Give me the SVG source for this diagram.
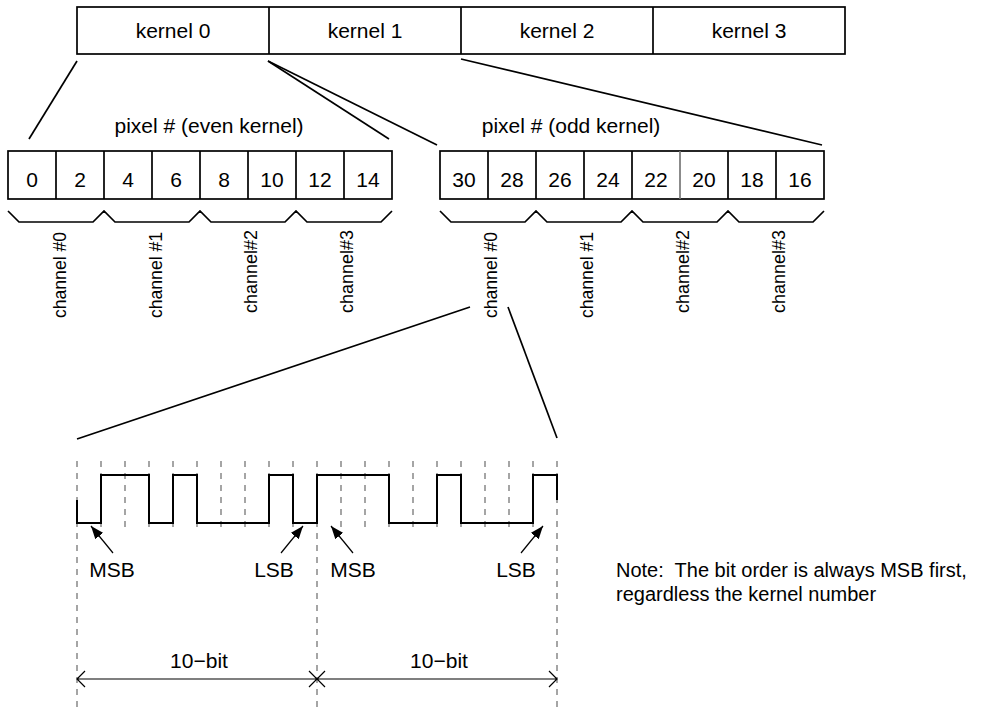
<svg xmlns="http://www.w3.org/2000/svg" width="990" height="708" viewBox="0 0 990 708">
<defs>
<style>
text{font-family:"Liberation Sans",Arial,Helvetica,sans-serif;fill:#000}
.t{font-size:21px;text-anchor:middle}
.ch{font-size:18.5px}
.note{font-size:20px;white-space:pre}
.box{fill:#fff;stroke:#000;stroke-width:1.7}
.ln{fill:none;stroke:#000;stroke-width:1.7}
.thin{fill:none;stroke:#000;stroke-width:1.2}
.dash{fill:none;stroke:#888;stroke-width:1.5;stroke-dasharray:6,6}
.wave{fill:none;stroke:#000;stroke-width:2}
</style>
<marker id="ah" markerUnits="userSpaceOnUse" markerWidth="14" markerHeight="10" refX="13" refY="5" orient="auto">
<path d="M0,0 L13,5 L0,10 z" fill="#000"/>
</marker>
</defs>
<rect width="990" height="708" fill="#fff"/>

<g id="kernels">
<rect class="box" x="77" y="7" width="768" height="47"/>
<path class="ln" d="M269,7V54M461,7V54M653,7V54"/>
<text class="t" x="173" y="38">kernel 0</text>
<text class="t" x="365" y="38">kernel 1</text>
<text class="t" x="557" y="38">kernel 2</text>
<text class="t" x="749" y="38">kernel 3</text>
</g>

<g id="even-pixels">
<text class="t" x="209" y="133">pixel # (even kernel)</text>
<rect class="box" x="8" y="151" width="384" height="48"/>
<path class="ln" d="M56,151V199M104,151V199M152,151V199M200,151V199M248,151V199M296,151V199M344,151V199"/>
<text class="t" x="32" y="187">0</text>
<text class="t" x="80" y="187">2</text>
<text class="t" x="128" y="187">4</text>
<text class="t" x="176" y="187">6</text>
<text class="t" x="224" y="187">8</text>
<text class="t" x="272" y="187">10</text>
<text class="t" x="320" y="187">12</text>
<text class="t" x="368" y="187">14</text>
<path class="ln" d="M8,211L19,222H93L104,211L115,222H189L200,211L211,222H285L296,211L307,222H381L392,211"/>
<text class="ch" transform="translate(66,318) rotate(-90)" textLength="86" lengthAdjust="spacingAndGlyphs">channel #0</text>
<text class="ch" transform="translate(162,318) rotate(-90)" textLength="86" lengthAdjust="spacingAndGlyphs">channel #1</text>
<text class="ch" transform="translate(257,313) rotate(-90)" textLength="83" lengthAdjust="spacingAndGlyphs">channel#2</text>
<text class="ch" transform="translate(353,313) rotate(-90)" textLength="83" lengthAdjust="spacingAndGlyphs">channel#3</text>
</g>

<g id="odd-pixels">
<text class="t" x="571" y="133">pixel # (odd kernel)</text>
<rect class="box" x="440" y="151" width="384" height="48"/>
<path class="ln" d="M488,151V199M536,151V199M584,151V199M632,151V199M728,151V199M776,151V199"/>
<path d="M680,151V199" fill="none" stroke="#777" stroke-width="1.7"/>
<text class="t" x="464" y="187">30</text>
<text class="t" x="512" y="187">28</text>
<text class="t" x="560" y="187">26</text>
<text class="t" x="608" y="187">24</text>
<text class="t" x="656" y="187">22</text>
<text class="t" x="704" y="187">20</text>
<text class="t" x="752" y="187">18</text>
<text class="t" x="800" y="187">16</text>
<path class="ln" d="M440,211L451,222H525L536,211L547,222H621L632,211L643,222H717L728,211L739,222H813L824,211"/>
<text class="ch" transform="translate(497,318) rotate(-90)" textLength="86" lengthAdjust="spacingAndGlyphs">channel #0</text>
<text class="ch" transform="translate(593,318) rotate(-90)" textLength="86" lengthAdjust="spacingAndGlyphs">channel #1</text>
<text class="ch" transform="translate(689,313) rotate(-90)" textLength="83" lengthAdjust="spacingAndGlyphs">channel#2</text>
<text class="ch" transform="translate(785,313) rotate(-90)" textLength="83" lengthAdjust="spacingAndGlyphs">channel#3</text>
</g>

<g id="waveform">
<path class="dash" d="M77,461V708M317,461V708M557,461V708"/>
<path class="dash" d="M101,461V533M125,461V533M149,461V533M173,461V533M197,461V533M221,461V533M245,461V533M269,461V533M293,461V533M341,461V533M365,461V533M389,461V533M413,461V533M437,461V533M461,461V533M485,461V533M509,461V533M533,461V533"/>
<path class="wave" d="M77,500V523H101V475H149V523H173V475H197V523H269V475H293V523H317V475H389V523H437V475H461V523H533V475H557V500"/>
<text class="t" x="112" y="577">MSB</text>
<text class="t" x="274" y="577">LSB</text>
<text class="t" x="353" y="577">MSB</text>
<text class="t" x="516" y="577">LSB</text>
</g>

<g id="dimension">
<path class="thin" d="M77,679H557M85,671L77,679L85,687M309,671L317,679L309,687M325,671L317,679L325,687M549,671L557,679L549,687"/>
<text class="t" x="199" y="668">10−bit</text>
<text class="t" x="439" y="668">10−bit</text>
</g>

<g id="note">
<text class="note" x="616" y="577" xml:space="preserve">Note:  The bit order is always MSB first,</text>
<text class="note" x="616" y="601">regardless the kernel number</text>
</g>

<g id="connectors">
<path class="ln" d="M77,61L29,139"/>
<path class="ln" d="M268,61L389,139"/>
<path class="ln" d="M268,61L437,145"/>
<path class="ln" d="M461,59L822,145"/>
<path class="ln" d="M470,307L77,439"/>
<path class="ln" d="M508,307L557,438"/>
<path class="thin" d="M113,553L91,526" marker-end="url(#ah)"/>
<path class="thin" d="M281,553L303,526" marker-end="url(#ah)"/>
<path class="thin" d="M353,553L331,526" marker-end="url(#ah)"/>
<path class="thin" d="M521,553L543,526" marker-end="url(#ah)"/>
</g>
</svg>
